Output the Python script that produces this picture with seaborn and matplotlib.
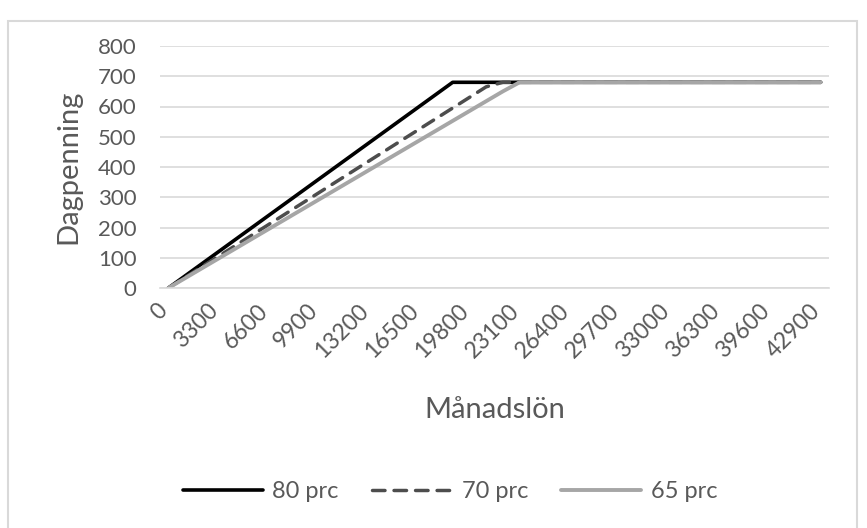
import matplotlib
matplotlib.use("Agg")
import matplotlib.pyplot as plt
import matplotlib.transforms as mtransforms
from matplotlib.patches import Rectangle
import seaborn as sns
import pandas as pd

# Monthly salary (kr) and daily allowance for each replacement rate
manadslon = [0, 1100, 2200, 3300, 4400, 5500, 6600, 7700, 8800, 9900,
             11000, 12100, 13200, 14300, 15400, 16500, 17600, 18700, 19800, 20900,
             22000, 23100, 24200, 25300, 26400, 27500, 28600, 29700, 30800, 31900,
             33000, 34100, 35200, 36300, 37400, 38500, 39600, 40700, 41800, 42900]
prc80 = [0, 40, 80, 120, 160, 200, 240, 280, 320, 360,
         400, 440, 480, 520, 560, 600, 640, 680, 680, 680,
         680, 680, 680, 680, 680, 680, 680, 680, 680, 680,
         680, 680, 680, 680, 680, 680, 680, 680, 680, 680]
prc70 = [0, 35, 70, 105, 140, 175, 210, 245, 280, 315,
         350, 385, 420, 455, 490, 525, 560, 595, 630, 665,
         680, 680, 680, 680, 680, 680, 680, 680, 680, 680,
         680, 680, 680, 680, 680, 680, 680, 680, 680, 680]
prc65 = [0, 32.5, 65, 97.5, 130, 162.5, 195, 227.5, 260, 292.5,
         325, 357.5, 390, 422.5, 455, 487.5, 520, 552.5, 585, 617.5,
         650, 680, 680, 680, 680, 680, 680, 680, 680, 680,
         680, 680, 680, 680, 680, 680, 680, 680, 680, 680]
series_names = ["80 prc", "70 prc", "65 prc"]
x_ticks = [0, 3300, 6600, 9900, 13200, 16500, 19800, 23100,
           26400, 29700, 33000, 36300, 39600, 42900]
y_ticks = [0, 100, 200, 300, 400, 500, 600, 700, 800]

df = pd.DataFrame({"Månadslön": manadslon,
                   "80 prc": prc80, "70 prc": prc70, "65 prc": prc65})

sns.set_theme(style="white")
plt.rcParams["font.family"] = ["Lato", "DejaVu Sans"]
TEXT = "#595959"
GRID = "#D9D9D9"

fig = plt.figure(figsize=(8.67, 5.28), dpi=100)
W, H = 867, 528
ax = fig.add_axes([160 / W, 1 - 288 / H, (829 - 160) / W, (288 - 46) / H])

styles = {
    "80 prc": dict(color="#000000", lw=2.6, dashes=None),
    "70 prc": dict(color="#4D4D4D", lw=2.5, dashes=(3.6, 2.6)),
    "65 prc": dict(color="#A6A6A6", lw=2.8, dashes=None),
}
for name in series_names:
    st = styles[name]
    sns.lineplot(data=df, x="Månadslön", y=name, ax=ax, color=st["color"],
                 linewidth=st["lw"], label=name, legend=False)
    line = ax.lines[-1]
    line.set_solid_capstyle("round")
    if st["dashes"] is not None:
        line.set_dashes(st["dashes"])
        line.set_dash_capstyle("round")

ax.set_xlim(-550, 43450)
ax.set_ylim(0, 800)
ax.set_yticks(y_ticks)
ax.set_yticklabels([str(v) for v in y_ticks])
ax.set_xticks(x_ticks)
ax.set_xticklabels([str(v) for v in x_ticks], rotation=45, ha="right",
                   va="center", rotation_mode="anchor")
ax.grid(axis="y", color=GRID, lw=1.2)
ax.set_axisbelow(True)
for side in ["top", "right", "left"]:
    ax.spines[side].set_visible(False)
ax.spines["bottom"].set_color(GRID)
ax.spines["bottom"].set_linewidth(1.2)
ax.tick_params(axis="y", length=0, labelsize=16, labelcolor=TEXT, pad=17)
ax.tick_params(axis="x", length=0, labelsize=16.5, labelcolor=TEXT, pad=14)
shift = mtransforms.ScaledTranslation(-4 / 100, 0, fig.dpi_scale_trans)
for lbl in ax.get_xticklabels():
    lbl.set_transform(lbl.get_transform() + shift)

ax.set_xlabel("Månadslön", fontsize=21, color=TEXT)
ax.set_ylabel("Dagpenning", fontsize=21, color=TEXT)
ax.xaxis.set_label_coords(0.5, (288 - 410) / (288 - 46))
ax.xaxis.label.set_va("center")
ax.yaxis.set_label_coords((68 - 160) / (829 - 160), 0.5)
ax.yaxis.label.set_va("center")

handles, labels = ax.get_legend_handles_labels()
leg = fig.legend(handles, labels, loc="center", bbox_to_anchor=(450 / W, 1 - 492 / H),
                 ncol=3, frameon=False, fontsize=17, handlelength=3.4,
                 handletextpad=0.4, columnspacing=1.4, labelcolor=TEXT)

# outer chart border
fig.add_artist(Rectangle((8 / W, -0.05), (857 - 8) / W, 1.05 - 21 / H,
                         transform=fig.transFigure, fill=False,
                         edgecolor=GRID, lw=1.5))

fig.savefig("out.png", dpi=100, facecolor="white")
